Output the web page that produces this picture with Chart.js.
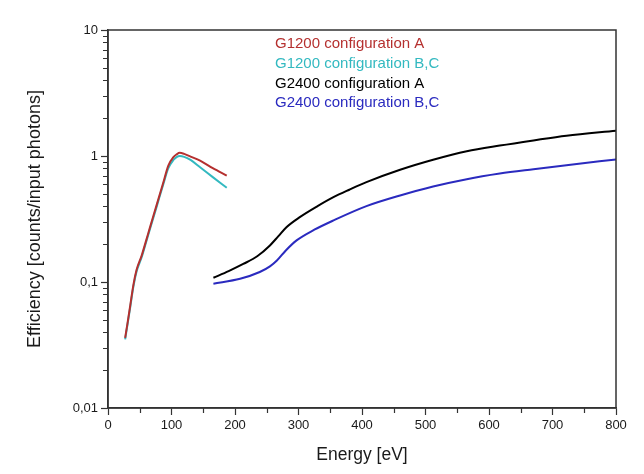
<!DOCTYPE html>
<html>
<head>
<meta charset="utf-8">
<script src="https://cdn.jsdelivr.net/npm/chart.js@4.4.1/dist/chart.umd.min.js"></script>
<style>
  html, body { margin: 0; padding: 0; background: #fff; }
  #wrap { width: 644px; height: 474px; }
</style>
</head>
<body>
<div id="wrap"><canvas id="chart"></canvas></div>
<script>
// ---- data ----
const g1200A_E  = [27, 31, 35, 40, 45, 53, 60, 66, 77, 87, 95, 103, 108, 113, 120, 130, 145, 165, 187];
const g1200A    = [0.036, 0.048, 0.065, 0.095, 0.125, 0.162, 0.213, 0.27, 0.415, 0.614, 0.84, 0.98, 1.03, 1.06, 1.04, 0.99, 0.92, 0.80, 0.70];

const g1200BC_E = [27, 31, 35, 40, 45, 53, 60, 66, 77, 87, 95, 103, 108, 113, 120, 130, 145, 165, 187];
const g1200BC   = [0.035, 0.047, 0.063, 0.092, 0.121, 0.157, 0.207, 0.262, 0.402, 0.595, 0.80, 0.93, 0.98, 1.0, 0.985, 0.93, 0.815, 0.68, 0.56];

const g2400A_E  = [166, 190, 213, 235, 255, 268, 281, 302, 330, 355, 380, 407, 460, 512, 565, 617, 670, 722, 800];
const g2400A    = [0.108, 0.122, 0.139, 0.16, 0.195, 0.23, 0.272, 0.327, 0.4, 0.471, 0.54, 0.62, 0.777, 0.933, 1.09, 1.21, 1.33, 1.45, 1.59];

const g2400BC_E = [166, 208, 239, 255, 266, 280, 297, 325, 355, 407, 460, 512, 565, 617, 670, 722, 800];
const g2400BC   = [0.097, 0.106, 0.12, 0.133, 0.148, 0.178, 0.214, 0.26, 0.308, 0.40, 0.486, 0.573, 0.655, 0.725, 0.785, 0.845, 0.94];

const SERIES_LABELS = ['G1200 configuration A', 'G1200 configuration B,C', 'G2400 configuration A', 'G2400 configuration B,C'];

// tick positions (labelled ones are multiples of 100 / powers of ten)
const X_TICKS = [0, 50, 100, 150, 200, 250, 300, 350, 400, 450, 500, 550, 600, 650, 700, 750, 800];
const Y_TICKS = [0.01, 0.02, 0.03, 0.04, 0.05, 0.06, 0.07, 0.08, 0.09,
                 0.1, 0.2, 0.3, 0.4, 0.5, 0.6, 0.7, 0.8, 0.9,
                 1, 2, 3, 4, 5, 6, 7, 8, 9, 10];

// ---- styling ----
const RED   = '#b5302f';
const CYAN  = '#33b9c0';
const BLACK = '#000000';
const BLUE  = '#2a2abf';
const AXIS  = '#333333';
const TEXT  = '#1a1a1a';
const FONT  = "'Liberation Sans', Arial, sans-serif";

const pts = (xs, ys) => xs.map((x, i) => ({ x, y: ys[i] }));
const isDecade = v => Math.abs(Math.log10(v) - Math.round(Math.log10(v))) < 1e-6;
const isMajorX = v => v % 100 === 0;

function series(label, xs, ys, color) {
  return {
    label,
    data: pts(xs, ys),
    borderColor: color,
    backgroundColor: color,
    borderWidth: 2,
    pointRadius: 0,
    cubicInterpolationMode: 'monotone',
    fill: false,
  };
}

// frame, minor ticks and text-only legend
const framePlugin = {
  id: 'frame',
  afterDraw(chart) {
    const { ctx, chartArea: a, scales: { x, y } } = chart;
    ctx.save();
    ctx.strokeStyle = AXIS;
    ctx.lineWidth = 1.5;
    ctx.strokeRect(a.left, a.top, a.right - a.left, a.bottom - a.top);

    ctx.lineWidth = 1.2;
    ctx.beginPath();
    Y_TICKS.filter(v => !isDecade(v)).forEach(v => {
      const py = Math.round(y.getPixelForValue(v)) + 0.5;
      ctx.moveTo(a.left - 5, py); ctx.lineTo(a.left, py);
    });
    X_TICKS.filter(v => !isMajorX(v)).forEach(v => {
      const px = Math.round(x.getPixelForValue(v)) + 0.5;
      ctx.moveTo(px, a.bottom); ctx.lineTo(px, a.bottom + 5);
    });
    ctx.stroke();

    ctx.font = '15px ' + FONT;
    ctx.textBaseline = 'middle';
    ctx.textAlign = 'left';
    chart.data.datasets.forEach((ds, i) => {
      ctx.fillStyle = ds.borderColor;
      ctx.fillText(ds.label, 275, 44 + i * 19.7);
    });
    ctx.restore();
  }
};

new Chart(document.getElementById('chart'), {
  type: 'line',
  data: {
    datasets: [
      series(SERIES_LABELS[0], g1200A_E, g1200A, RED),
      series(SERIES_LABELS[1], g1200BC_E, g1200BC, CYAN),
      series(SERIES_LABELS[2], g2400A_E, g2400A, BLACK),
      series(SERIES_LABELS[3], g2400BC_E, g2400BC, BLUE),
    ],
  },
  options: {
    responsive: true,
    maintainAspectRatio: false,
    animation: false,
    layout: { padding: { top: 30, right: 28, left: 0, bottom: 0 } },
    plugins: { legend: { display: false }, tooltip: { enabled: false } },
    scales: {
      x: {
        type: 'linear',
        min: 0, max: 800,
        afterFit: s => { s.height = 66; },
        afterBuildTicks: s => { s.ticks = X_TICKS.filter(isMajorX).map(v => ({ value: v })); },
        border: { display: true, color: AXIS, width: 1.5 },
        grid: { drawOnChartArea: false, tickLength: 7, tickColor: AXIS, tickWidth: 1.2 },
        ticks: {
          autoSkip: false,
          maxRotation: 0,
          padding: 3,
          color: TEXT,
          font: { family: FONT, size: 13 },
          callback: v => String(v),
        },
        title: {
          display: true,
          text: 'Energy [eV]',
          color: TEXT,
          font: { family: FONT, size: 17.5 },
          padding: { top: 0, bottom: 8 },
        },
      },
      y: {
        type: 'logarithmic',
        min: 0.01, max: 10,
        afterFit: s => { s.width = 108; },
        afterBuildTicks: s => { s.ticks = Y_TICKS.filter(isDecade).map(v => ({ value: v })); },
        border: { display: true, color: AXIS, width: 1.5 },
        grid: { drawOnChartArea: false, tickLength: 7, tickColor: AXIS, tickWidth: 1.2 },
        ticks: {
          autoSkip: false,
          padding: 3,
          color: TEXT,
          font: { family: FONT, size: 13 },
          callback: v => String(v).replace('.', ','),
        },
        title: {
          display: true,
          text: 'Efficiency [counts/input photons]',
          color: TEXT,
          font: { family: FONT, size: 18 },
          padding: { top: 24, bottom: 0 },
        },
      },
    },
  },
  plugins: [framePlugin],
});
</script>
</body>
</html>
